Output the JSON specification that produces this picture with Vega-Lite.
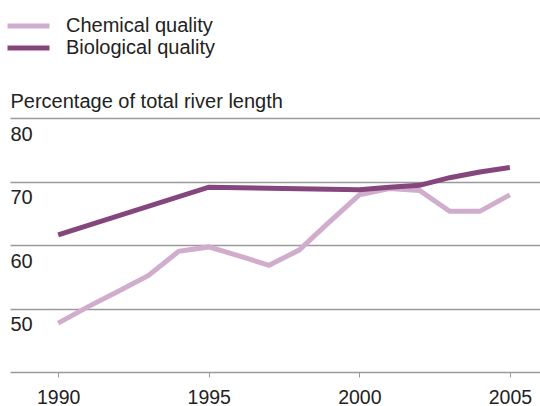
{
  "$schema": "https://vega.github.io/schema/vega-lite/v6.json",
  "width": 530,
  "height": 254,
  "autosize": {"type": "none"},
  "padding": {"left": 10, "top": 118, "right": 0, "bottom": 34},
  "background": "#ffffff",
  "config": {
    "view": {"stroke": null},
    "font": "Liberation Sans"
  },
  "data": {
    "values": [
      {"year": 1990, "series": "Chemical quality", "value": 47.7},
      {"year": 1991, "series": "Chemical quality", "value": 50.3},
      {"year": 1992, "series": "Chemical quality", "value": 52.7},
      {"year": 1993, "series": "Chemical quality", "value": 55.2},
      {"year": 1994, "series": "Chemical quality", "value": 59.0},
      {"year": 1995, "series": "Chemical quality", "value": 59.7},
      {"year": 1996, "series": "Chemical quality", "value": 58.3},
      {"year": 1997, "series": "Chemical quality", "value": 56.8},
      {"year": 1998, "series": "Chemical quality", "value": 59.2},
      {"year": 1999, "series": "Chemical quality", "value": 63.6},
      {"year": 2000, "series": "Chemical quality", "value": 67.9},
      {"year": 2001, "series": "Chemical quality", "value": 68.9},
      {"year": 2002, "series": "Chemical quality", "value": 68.6},
      {"year": 2003, "series": "Chemical quality", "value": 65.3},
      {"year": 2004, "series": "Chemical quality", "value": 65.3},
      {"year": 2005, "series": "Chemical quality", "value": 67.9},
      {"year": 1990, "series": "Biological quality", "value": 61.6},
      {"year": 1995, "series": "Biological quality", "value": 69.1},
      {"year": 2000, "series": "Biological quality", "value": 68.7},
      {"year": 2001, "series": "Biological quality", "value": 69.1},
      {"year": 2002, "series": "Biological quality", "value": 69.4},
      {"year": 2003, "series": "Biological quality", "value": 70.6},
      {"year": 2004, "series": "Biological quality", "value": 71.5},
      {"year": 2005, "series": "Biological quality", "value": 72.2}
    ]
  },
  "mark": {"type": "line", "strokeWidth": 5, "strokeJoin": "miter", "strokeCap": "butt"},
  "encoding": {
    "x": {
      "field": "year",
      "type": "quantitative",
      "scale": {"domain": [1988.4, 2006], "nice": false, "zero": false},
      "axis": {
        "title": null,
        "values": [1990, 1995, 2000, 2005],
        "format": "d",
        "grid": false,
        "domainColor": "#9a9a9a",
        "domainWidth": 1.5,
        "tickColor": "#9a9a9a",
        "tickWidth": 1,
        "tickSize": 5,
        "labelFontSize": 19.5,
        "labelColor": "#222222",
        "labelBaseline": "alphabetic",
        "labelPadding": 26,
        "labelFlush": false
      }
    },
    "y": {
      "field": "value",
      "type": "quantitative",
      "scale": {"domain": [40, 80], "nice": false, "zero": false},
      "axis": {
        "title": "Percentage of total river length",
        "titleAngle": 0,
        "titleAlign": "left",
        "titleBaseline": "alphabetic",
        "titleX": 0,
        "titleY": -11,
        "titleFontSize": 20,
        "titleFontWeight": "normal",
        "titleColor": "#222222",
        "values": [50, 60, 70, 80],
        "domain": false,
        "ticks": false,
        "tickSize": 0,
        "grid": true,
        "gridColor": "#9a9a9a",
        "gridWidth": 1.5,
        "labelAlign": "left",
        "labelBaseline": "alphabetic",
        "labelPadding": 0,
        "labelOffset": 22,
        "labelFontSize": 20,
        "labelColor": "#222222"
      }
    },
    "color": {
      "field": "series",
      "type": "nominal",
      "scale": {
        "domain": ["Chemical quality", "Biological quality"],
        "range": ["#d0adcc", "#85467d"]
      },
      "legend": {
        "title": null,
        "orient": "none",
        "legendX": -5,
        "legendY": -102,
        "padding": 0,
        "symbolType": "stroke",
        "symbolSize": 1764,
        "symbolStrokeWidth": 5,
        "labelFontSize": 20,
        "labelColor": "#222222",
        "labelOffset": 14,
        "clipHeight": 20,
        "rowPadding": 2
      }
    }
  }
}
